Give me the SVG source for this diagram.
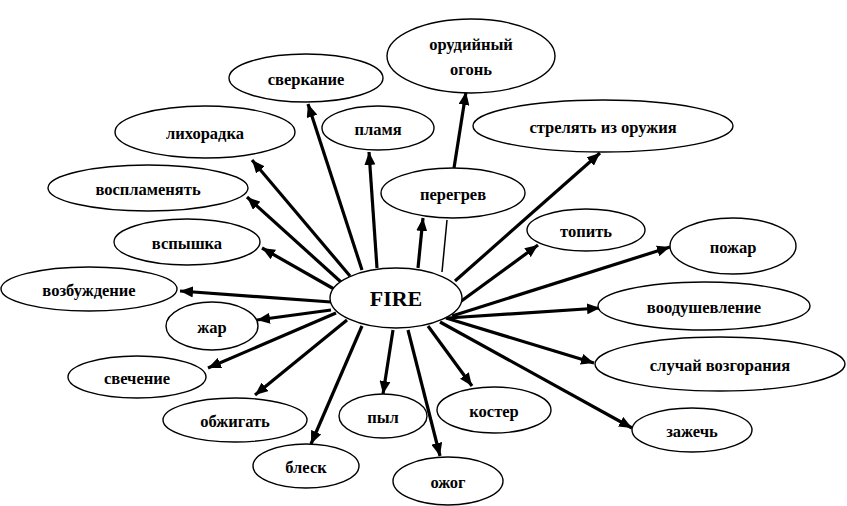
<svg xmlns="http://www.w3.org/2000/svg" width="847" height="506" viewBox="0 0 847 506">
<style>
.n ellipse{fill:#fff;stroke:#000;stroke-width:1.4}
.n text{font-family:"Liberation Serif","Times New Roman",serif;font-weight:bold;font-size:16.5px;text-anchor:middle;dominant-baseline:central;fill:#000}
#edges line{stroke:#000;stroke-width:3.2;marker-end:url(#ah)}
#edges line.thin{stroke-width:1.5;marker-end:none}
</style>
<defs>
<marker id="ah" markerUnits="userSpaceOnUse" markerWidth="14" markerHeight="11" refX="13" refY="5.5" orient="auto">
<path d="M0,0 L13,5.5 L0,11 Z" fill="#000"/>
</marker>
</defs>
<g id="edges">
<line x1="362" y1="270" x2="308" y2="104"/>
<line x1="377" y1="268" x2="369" y2="152"/>
<line x1="350" y1="276" x2="252" y2="160"/>
<line x1="341" y1="282" x2="247" y2="197"/>
<line x1="334" y1="289" x2="262" y2="248"/>
<line x1="331" y1="302" x2="180" y2="291"/>
<line x1="331" y1="310" x2="257" y2="320"/>
<line x1="336" y1="313" x2="208" y2="368"/>
<line x1="347" y1="320" x2="255" y2="395"/>
<line x1="362" y1="326" x2="311" y2="444"/>
<line x1="393" y1="330" x2="383" y2="394"/>
<line x1="408" y1="330" x2="440" y2="456"/>
<line x1="428" y1="326" x2="472" y2="386"/>
<line x1="440" y1="322" x2="632" y2="428"/>
<line x1="446" y1="318" x2="594" y2="363"/>
<line x1="448" y1="318" x2="600" y2="308"/>
<line x1="452" y1="316" x2="670" y2="247"/>
<line x1="460" y1="302" x2="538" y2="245"/>
<line x1="455" y1="281" x2="600" y2="153"/>
<line x1="418" y1="268" x2="423" y2="218"/>
<line class="thin" x1="442" y1="272" x2="447" y2="220"/>
<line x1="454" y1="168" x2="466" y2="92"/>
</g>
<g id="fire" class="n"><ellipse cx="396" cy="298" rx="66" ry="30"/><text x="396" y="298" style="font-size:22px">FIRE</text></g>
<g id="sverkanie" class="n"><ellipse cx="306" cy="78" rx="77" ry="24"/><text x="306" y="79">сверкание</text></g>
<g id="likhoradka" class="n"><ellipse cx="205" cy="132" rx="90" ry="26"/><text x="205" y="133">лихорадка</text></g>
<g id="plamya" class="n"><ellipse cx="378" cy="128" rx="56" ry="22"/><text x="378" y="129">пламя</text></g>
<g id="vosplamenyat" class="n"><ellipse cx="148" cy="188" rx="100" ry="23"/><text x="148" y="189">воспламенять</text></g>
<g id="vspyshka" class="n"><ellipse cx="187" cy="242" rx="73" ry="23"/><text x="187" y="243">вспышка</text></g>
<g id="peregrev" class="n"><ellipse cx="453" cy="193" rx="72" ry="25"/><text x="453" y="194">перегрев</text></g>
<g id="orudiyny" class="n"><ellipse cx="471" cy="56" rx="84" ry="37"/><text x="471" y="44">орудийный</text><text x="471" y="69">огонь</text></g>
<g id="strelyat" class="n"><ellipse cx="603" cy="126" rx="130" ry="26"/><text x="603" y="127">стрелять из оружия</text></g>
<g id="topit" class="n"><ellipse cx="586" cy="230" rx="59" ry="21"/><text x="586" y="231">топить</text></g>
<g id="pozhar" class="n"><ellipse cx="733" cy="246" rx="63" ry="28"/><text x="733" y="247">пожар</text></g>
<g id="voodushevlenie" class="n"><ellipse cx="704" cy="306" rx="106" ry="24"/><text x="704" y="307">воодушевление</text></g>
<g id="sluchay" class="n"><ellipse cx="720" cy="364" rx="125" ry="27"/><text x="720" y="365">случай возгорания</text></g>
<g id="zazhech" class="n"><ellipse cx="692" cy="430" rx="60" ry="22"/><text x="692" y="431">зажечь</text></g>
<g id="koster" class="n"><ellipse cx="494" cy="410" rx="57" ry="23"/><text x="494" y="411">костер</text></g>
<g id="ozhog" class="n"><ellipse cx="448" cy="481" rx="55" ry="24"/><text x="448" y="482">ожог</text></g>
<g id="pyl" class="n"><ellipse cx="383" cy="416" rx="44" ry="22"/><text x="383" y="417">пыл</text></g>
<g id="blesk" class="n"><ellipse cx="306" cy="466" rx="53" ry="22"/><text x="306" y="467">блеск</text></g>
<g id="obzhigat" class="n"><ellipse cx="235" cy="420" rx="72" ry="22"/><text x="235" y="421">обжигать</text></g>
<g id="svechenie" class="n"><ellipse cx="137" cy="377" rx="69" ry="21"/><text x="137" y="378">свечение</text></g>
<g id="zhar" class="n"><ellipse cx="212" cy="326" rx="46" ry="24"/><text x="212" y="327">жар</text></g>
<g id="vozbuzhdenie" class="n"><ellipse cx="89" cy="289" rx="88" ry="22"/><text x="89" y="290">возбуждение</text></g>
</svg>
